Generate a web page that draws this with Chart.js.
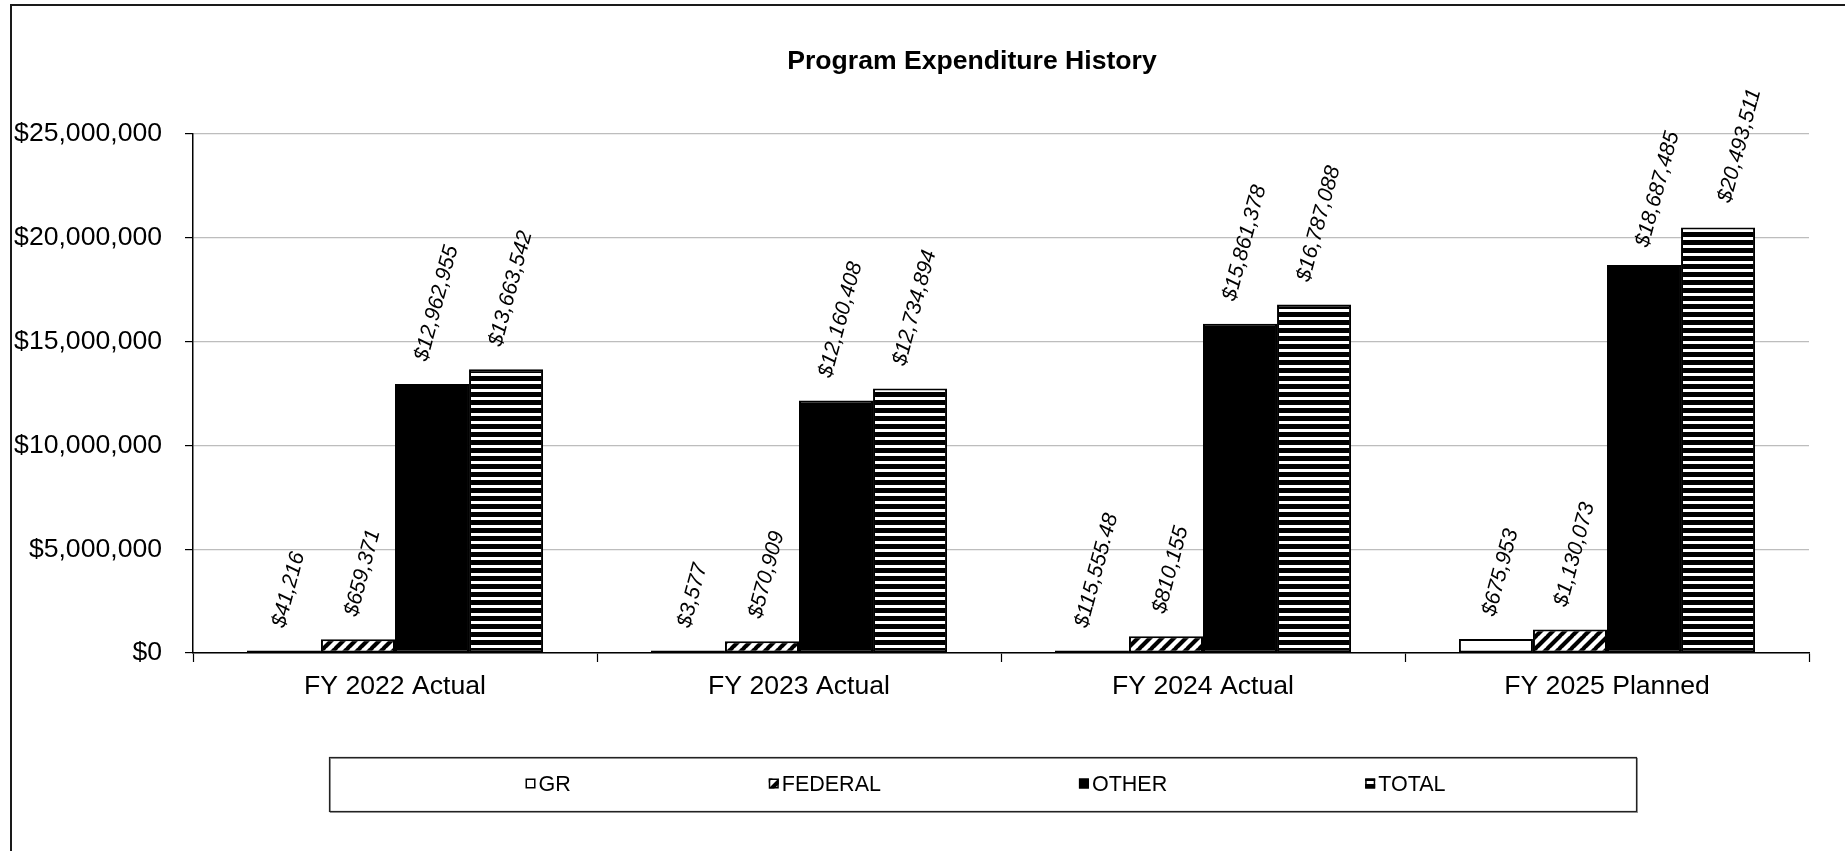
<!DOCTYPE html>
<html>
<head>
<meta charset="utf-8">
<title>Program Expenditure History</title>
<script src="https://cdn.jsdelivr.net/npm/chart.js@4.4.1/dist/chart.umd.min.js"></script>
<style>
  html, body { margin: 0; padding: 0; background: #fff; overflow: hidden; }
  canvas { display: block; }
</style>
</head>
<body>
<canvas id="chart" width="1845" height="851"></canvas>
<script>
// ---- data ----
const chartTitle = 'Program Expenditure History';
const categories = ['FY 2022 Actual', 'FY 2023 Actual', 'FY 2024 Actual', 'FY 2025 Planned'];
const seriesNames = ['GR', 'FEDERAL', 'OTHER', 'TOTAL'];
const grValues = [41216, 3577, 115555.48, 675953];
const federalValues = [659371, 570909, 810155, 1130073];
const otherValues = [12962955, 12160408, 15861378, 18687485];
const totalValues = [13663542, 12734894, 16787088, 20493511];
const yTickValues = [0, 5000000, 10000000, 15000000, 20000000, 25000000];

const FONT = '"Liberation Sans", Arial, Helvetica, sans-serif';
const canvas = document.getElementById('chart');
const ctx = canvas.getContext('2d');

const money = v => '$' + v.toLocaleString('en-US', { maximumFractionDigits: 2 });

// hand-placed value labels (dataset index -> data index -> [dx, dy] in px)
const labelNudges = { 2: { 3: [9, 5] }, 3: { 3: [17, -2] } };

// ---- fill patterns ----
function diagonalHatch() {
  const t = document.createElement('canvas');
  t.width = 12; t.height = 12;
  const g = t.getContext('2d');
  g.fillStyle = '#fff';
  g.fillRect(0, 0, 12, 12);
  g.strokeStyle = '#000';
  g.lineWidth = 4.2;
  g.beginPath();
  for (let k = -1; k <= 1; k++) {
    g.moveTo(k * 12 - 1, 13);
    g.lineTo(k * 12 + 13, -1);
  }
  g.stroke();
  return ctx.createPattern(t, 'repeat');
}
function horizontalStripes() {
  const t = document.createElement('canvas');
  t.width = 8; t.height = 8;
  const g = t.getContext('2d');
  g.fillStyle = '#fff';
  g.fillRect(0, 0, 8, 8);
  g.fillStyle = '#000';
  g.fillRect(0, 0, 8, 5);
  return ctx.createPattern(t, 'repeat');
}

const fills = ['#ffffff', diagonalHatch(), '#000000', horizontalStripes()];
const seriesValues = [grValues, federalValues, otherValues, totalValues];

const datasets = seriesNames.map((name, i) => ({
  label: name,
  data: seriesValues[i],
  backgroundColor: fills[i],
  borderColor: '#000',
  borderWidth: 2,
  borderSkipped: false,
  minBarLength: 2.5,
  categoryPercentage: 0.733,
  barPercentage: 1.0
}));

// ---- plugins ----
const frame = {
  id: 'frame',
  beforeDraw(chart) {
    const c = chart.ctx;
    c.save();
    c.fillStyle = '#fff';
    c.fillRect(0, 0, chart.width, chart.height);
    c.restore();
  },
  afterDraw(chart) {
    const c = chart.ctx;
    c.save();
    c.strokeStyle = '#1a1a1a';
    c.lineWidth = 2;
    c.strokeRect(11, 5, chart.width + 40, chart.height + 40);
    // heading
    const size = 26.6;
    c.font = 'bold ' + size + 'px ' + FONT;
    c.fillStyle = '#000';
    c.textAlign = 'center';
    c.textBaseline = 'alphabetic';
    c.fillText(chartTitle, 972, 59 + size * 0.716 / 2);
    c.restore();
  }
};

const valueLabels = {
  id: 'valueLabels',
  afterDatasetsDraw(chart) {
    const c = chart.ctx;
    const angle = 75 * Math.PI / 180;
    const size = 21.3;
    const capH = size * 0.72;
    c.save();
    c.font = 'italic ' + size + 'px ' + FONT;
    c.fillStyle = '#000';
    c.textAlign = 'left';
    c.textBaseline = 'alphabetic';
    chart.data.datasets.forEach((ds, di) => {
      chart.getDatasetMeta(di).data.forEach((bar, i) => {
        const text = money(ds.data[i]);
        const w = c.measureText(text).width;
        const h = w * Math.sin(angle) + capH * Math.cos(angle);
        const nudge = (labelNudges[di] && labelNudges[di][i]) || [0, 0];
        const cx = bar.x + 3 + nudge[0];
        const cy = bar.y - 22 - h / 2 + nudge[1];
        c.save();
        c.translate(cx, cy);
        c.rotate(-angle);
        c.fillText(text, -w / 2, capH / 2);
        c.restore();
      });
    });
    c.restore();
  }
};

const boxedLegend = {
  id: 'boxedLegend',
  afterDraw(chart) {
    const c = chart.ctx;
    const box = { left: 329, top: 757, right: 1636, bottom: 811 };
    c.save();
    c.strokeStyle = '#9a9a9a';
    c.lineWidth = 1;
    c.strokeRect(box.left + 1.5, box.top + 1.5, box.right - box.left, box.bottom - box.top);
    c.strokeStyle = '#222';
    c.lineWidth = 1.2;
    c.strokeRect(box.left + 0.5, box.top + 0.5, box.right - box.left, box.bottom - box.top);

    const size = 21.5, mark = 10, markGap = 3, itemGap = 198;
    c.font = size + 'px ' + FONT;
    const items = chart.data.datasets.map(ds => ({
      label: ds.label, fill: ds.backgroundColor,
      w: mark + markGap + c.measureText(ds.label).width
    }));
    const total = items.reduce((s, it) => s + it.w, 0) + itemGap * (items.length - 1);
    let x = (box.left + box.right) / 2 - total / 2 + 3;
    const cy = (box.top + box.bottom) / 2 - 0.5;
    c.textBaseline = 'alphabetic';
    c.textAlign = 'left';
    items.forEach(it => {
      c.fillStyle = it.fill;
      c.fillRect(x, cy - mark / 2, mark, mark);
      c.strokeStyle = '#000';
      c.lineWidth = 1.5;
      c.strokeRect(x + 0.75, cy - mark / 2 + 0.75, mark - 1.5, mark - 1.5);
      c.fillStyle = '#000';
      c.fillText(it.label, x + mark + markGap, cy + size * 0.716 / 2);
      x += it.w + itemGap;
    });
    c.restore();
  }
};

// ---- chart ----
new Chart(ctx, {
  type: 'bar',
  data: { labels: categories, datasets },
  plugins: [frame, valueLabels, boxedLegend],
  options: {
    responsive: false,
    animation: false,
    devicePixelRatio: 1,
    layout: { padding: { top: 134, right: 36, bottom: 0, left: 0 } },
    plugins: {
      legend: { display: false },
      tooltip: { enabled: false },
      title: { display: false }
    },
    scales: {
      x: {
        afterFit(scale) { scale.height = 198; },
        border: { display: true, color: '#000', width: 1.5 },
        grid: {
          offset: true,
          drawOnChartArea: false,
          drawTicks: true,
          tickLength: 9,
          tickColor: '#000',
          tickWidth: 1.2
        },
        ticks: {
          color: '#000',
          padding: 8.5,
          maxRotation: 0,
          font: { family: FONT, size: 26.6 }
        }
      },
      y: {
        min: 0,
        max: 25000000,
        afterFit(scale) { scale.width = 193; },
        afterBuildTicks(scale) { scale.ticks = yTickValues.map(v => ({ value: v })); },
        border: { display: true, color: '#000', width: 1.5 },
        grid: {
          color: '#bdbdbd',
          lineWidth: 1.2,
          tickLength: 8,
          tickColor: '#000',
          tickWidth: 1.2
        },
        ticks: {
          color: '#000',
          padding: 23,
          font: { family: FONT, size: 26.6 },
          callback: v => money(v)
        }
      }
    }
  }
});
</script>
</body>
</html>
